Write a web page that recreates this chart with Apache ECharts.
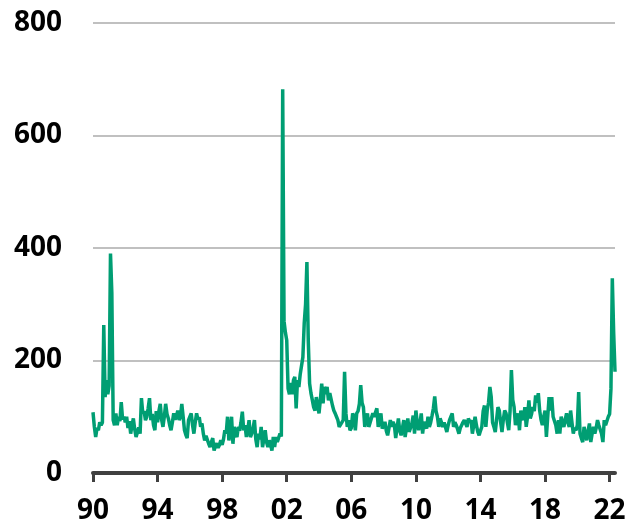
<!DOCTYPE html>
<html>
<head>
<meta charset="utf-8">
<script src="https://cdn.jsdelivr.net/npm/echarts@6/dist/echarts.min.js"></script>
<style>
  html, body { margin: 0; padding: 0; background: #fff; }
  #chart { width: 627px; height: 527px; }
</style>
</head>
<body>
<div id="chart"></div>
<script>
// monthly index readings, Jan 1990 .. May 2022
var idx1990s = [
    108, 82, 64, 80, 76, 90, 85, 90, 263, 135, 165, 140,
    155, 390, 320, 94, 85, 106, 85, 100, 92, 126, 95, 100,
    90, 100, 80, 92, 70, 85, 97, 78, 64, 72, 81, 70,
    133, 106, 110, 94, 100, 115, 133, 94, 105, 85, 76, 110,
    90, 110, 123, 95, 82, 100, 123, 105, 97, 85, 76, 90,
    106, 95, 100, 111, 94, 100, 123, 100, 76, 68, 62, 94,
    100, 106, 85, 70, 90, 106, 95, 99, 82, 88, 70, 58,
    66, 64, 52, 46, 55, 62, 40, 48, 53, 45, 50, 58,
    50, 60, 76, 70, 100, 58, 72, 100, 52, 82, 70, 64,
    82, 75, 90, 109, 76, 85, 64, 75, 94, 64, 70, 80
];
var idx2000s = [
    94, 60, 46, 70, 60, 82, 46, 60, 76, 55, 46, 58,
    50, 40, 64, 46, 64, 55, 58, 70, 65, 682, 270, 250,
    236, 150, 140, 160, 140, 165, 171, 115, 165, 153, 175, 177,
    206, 266, 300, 375, 236, 159, 142, 130, 117, 111, 135, 120,
    106, 130, 159, 124, 153, 140, 153, 129, 142, 142, 120, 111,
    106, 100, 94, 82, 79, 90, 94, 180, 106, 82, 94, 76,
    80, 106, 100, 76, 106, 110, 123, 156, 125, 117, 82, 95,
    106, 82, 90, 88, 106, 100, 108, 115, 82, 95, 106, 79,
    85, 91, 75, 67, 80, 94, 82, 91, 85, 62, 80, 97,
    75, 67, 80, 94, 64, 80, 97, 73, 80, 88, 102, 70
];
var idx2010s = [
    111, 90, 76, 88, 106, 70, 91, 85, 79, 100, 82, 90,
    102, 115, 136, 110, 100, 82, 97, 90, 82, 90, 88, 73,
    85, 94, 100, 106, 82, 90, 85, 78, 70, 80, 85, 90,
    94, 88, 82, 97, 90, 94, 70, 85, 100, 85, 73, 67,
    75, 82, 110, 120, 82, 111, 125, 153, 135, 90, 82, 73,
    95, 117, 111, 90, 73, 95, 111, 106, 90, 76, 110, 183,
    130, 117, 85, 95, 106, 76, 111, 100, 94, 117, 82, 100,
    129, 97, 105, 117, 110, 138, 125, 142, 111, 95, 85, 100,
    111, 64, 100, 135, 111, 135, 100, 100, 85, 70, 94, 70,
    100, 90, 82, 95, 106, 90, 82, 111, 90, 70, 80, 76
];
var idx2020s = [
    85, 144, 70, 62, 55, 82, 70, 58, 75, 88, 55, 70,
    82, 70, 80, 94, 85, 82, 70, 55, 94, 85, 88, 100,
    105, 150, 346, 250, 180
];

var values = idx1990s.concat(idx2000s, idx2010s, idx2020s);

var months = [];
for (var i = 0; i < values.length; i++) {
    var y = 1990 + Math.floor(i / 12);
    var m = i % 12 + 1;
    months.push(y + '-' + (m < 10 ? '0' + m : m));
}

var yTicks = [0, 200, 400, 600, 800];

var isYearTick = function (index) {
    return index % 48 === 0;
};

var labelFont = {
    color: '#000',
    fontFamily: 'Open Sans',
    fontWeight: 'bold',
    fontSize: 28
};

var chart = echarts.init(document.getElementById('chart'));

chart.setOption({
    animation: false,
    backgroundColor: '#fff',
    grid: {
        left: 93,
        right: 12,
        top: 23,
        bottom: 54,
        outerBoundsMode: 'none'
    },
    xAxis: {
        type: 'category',
        data: months,
        boundaryGap: false,
        axisLine: {
            lineStyle: { color: '#404040', width: 4 }
        },
        axisTick: {
            interval: isYearTick,
            length: 9,
            lineStyle: { color: '#404040', width: 3 }
        },
        axisLabel: Object.assign({
            interval: isYearTick,
            margin: 24,
            formatter: function (val) {
                return val.slice(2, 4);
            }
        }, labelFont),
        splitLine: { show: false }
    },
    yAxis: {
        type: 'value',
        min: yTicks[0],
        max: yTicks[yTicks.length - 1],
        interval: 200,
        axisLine: { show: false },
        axisTick: { show: false },
        axisLabel: Object.assign({ margin: 31 }, labelFont),
        splitLine: {
            lineStyle: { color: '#c0c0c0', width: 2 }
        }
    },
    series: [{
        type: 'line',
        data: values,
        symbol: 'none',
        lineStyle: { color: '#009e73', width: 3.5 },
        itemStyle: { color: '#009e73' }
    }]
});
</script>
</body>
</html>
